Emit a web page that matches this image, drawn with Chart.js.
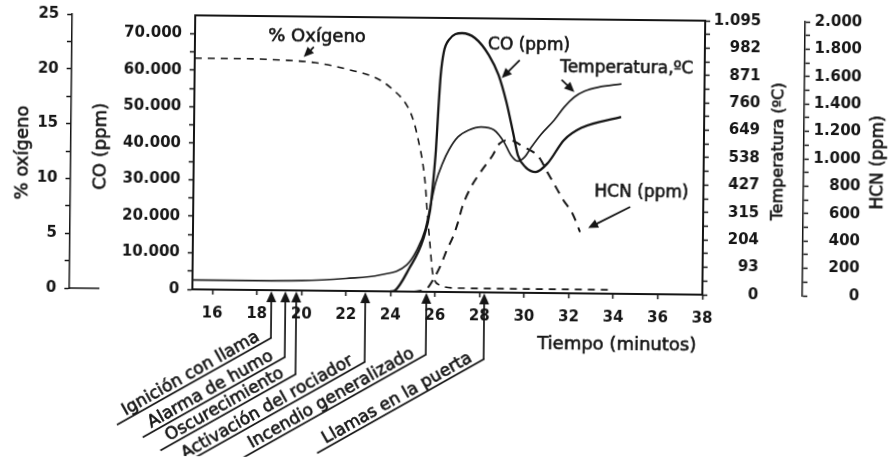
<!DOCTYPE html>
<html>
<head>
<meta charset="utf-8">
<script src="https://cdn.jsdelivr.net/npm/chart.js@4.4.0/dist/chart.umd.min.js"></script>
<style>
  html, body { margin: 0; padding: 0; background: #fff; }
  #wrap { width: 893px; height: 459px; }
  canvas { transform: rotate(0.6deg); }
</style>
</head>
<body>
<div id="wrap"><canvas id="fireChart" width="893" height="459"></canvas></div>
<script>
// tick values
const xTicks = [16, 18, 20, 22, 24, 26, 28, 30, 32, 34, 36, 38];
const o2Ticks = [0, 5, 10, 15, 20, 25];
const coTicks = [0, 10000, 20000, 30000, 40000, 50000, 60000, 70000];
const hcnTicks = [0, 200, 400, 600, 800, 1000, 1200, 1400, 1600, 1800, 2000];
// temperature scale is laid out in 200 F steps, labelled in C
const tempTickValues = [-17.8, 93.3, 204.4, 315.6, 426.7, 537.8, 648.9, 760, 871.1, 982.2, 1093.3];
const tempTickLabels = ['0', '93', '204', '315', '427', '538', '649', '760', '871', '982', '1.095'];

// % oxygen
const o2Time = [15.1, 17.0, 19.0, 20.5, 22.0, 23.2, 23.9, 24.7, 24.98, 25.2, 25.38, 25.52, 25.6, 25.74, 25.88, 26.19, 26.95, 29.0, 31.0, 34.0];
const o2Pct = [21.1, 21.1, 21.0, 20.8, 20.2, 19.5, 18.6, 16.8, 15.4, 13.6, 11.8, 9.6, 7.5, 4.5, 1.75, 0.64, 0.37, 0.35, 0.35, 0.35];

// CO (ppm)
const coTime = [24.0, 24.2, 24.84, 25.43, 25.74, 25.88, 25.97, 26.06, 26.15, 26.28, 26.5, 27.09, 27.67, 28.3, 28.75, 29.11, 29.42, 29.65, 30.0, 30.46, 31.0, 31.71, 32.48, 34.27];
const coPpm = [0, 300, 6500, 14200, 22400, 31400, 38800, 49800, 59300, 65700, 69000, 70900, 69600, 65000, 59500, 52200, 44000, 37700, 34400, 33100, 35600, 41900, 45300, 48400];

// temperature (C)
const tempTime = [15.1, 17.5, 20.0, 22.0, 23.5, 24.71, 25.16, 25.52, 25.74, 25.97, 26.28, 26.55, 26.95, 27.45, 27.99, 28.57, 29.02, 29.33, 29.65, 29.96, 30.23, 30.68, 31.27, 31.71, 32.16, 32.61, 33.24, 34.27];
const tempC = [20, 20, 22, 33, 48, 90, 151, 233, 326, 424, 505, 558, 611, 640, 653, 641, 593, 541, 516, 533, 570, 625, 684, 737, 778, 802, 819, 833];

// HCN (ppm)
const hcnTime = [25.0, 25.6, 25.97, 26.28, 26.5, 26.77, 27.0, 27.18, 27.54, 27.99, 28.53, 28.8, 29.24, 29.92, 30.59, 31.0, 31.27, 31.71, 32.12, 32.48];
const hcnPpm = [0, 20, 107, 210, 305, 400, 512, 622, 761, 879, 1004, 1084, 1114, 1064, 993, 877, 804, 680, 586, 448];

// events marked under the time axis
const eventTimes = [18.65, 19.28, 19.77, 22.87, 25.61, 28.21];
const eventLabels = ['Ignición con llama', 'Alarma de humo', 'Oscurecimiento', 'Activación del rociador', 'Incendio generalizado', 'Llamas en la puerta'];
const eventDrops = [48, 67, 84, 71, 63, 67];

const ink = '#151515';
const FONT = 'DejaVu Sans';

function pts(xs, ys) {
  return xs.map((x, i) => ({ x: x, y: ys[i] }));
}

function withMinors(majors) {
  const out = [];
  majors.forEach((v, i) => {
    out.push(v);
    if (i < majors.length - 1) out.push((v + majors[i + 1]) / 2);
  });
  return out;
}

function thousands(v) {
  return String(v).replace(/\B(?=(\d{3})+(?!\d))/g, '.');
}

// series labels placed inside the plot, in time / CO units
const notes = [
  { text: '% Oxígeno', size: 18, t: 20.58, v: 69400, from: [20.44, 66700], to: [19.99, 63900] },
  { text: 'CO (ppm)', size: 17, t: 30.10, v: 67600, from: [29.69, 63700], to: [28.89, 58700] },
  { text: 'Temperatura,ºC', size: 17, t: 34.5, v: 61600, from: [31.58, 58400], to: [32.16, 55100] },
  { text: 'HCN (ppm)', size: 17, t: 35.22, v: 27800, from: [34.72, 23800], to: [32.84, 17900] }
];

function arrow(ctx, x1, y1, x2, y2, head) {
  const a = Math.atan2(y2 - y1, x2 - x1);
  const c = Math.cos(a), s = Math.sin(a);
  ctx.beginPath();
  ctx.moveTo(x1, y1);
  ctx.lineTo(x2 - c * head * 0.7, y2 - s * head * 0.7);
  ctx.stroke();
  ctx.beginPath();
  ctx.moveTo(x2, y2);
  ctx.lineTo(x2 - head * c + head * 0.45 * s, y2 - head * s - head * 0.45 * c);
  ctx.lineTo(x2 - head * c - head * 0.45 * s, y2 - head * s + head * 0.45 * c);
  ctx.closePath();
  ctx.fill();
}

// filled text with a thin outline so it reads as heavy as the tick labels
function inkText(ctx, text, x, y) {
  ctx.lineWidth = 0.6;
  ctx.strokeText(text, x, y);
  ctx.fillText(text, x, y);
}

function vText(ctx, text, x, y, size) {
  ctx.save();
  ctx.translate(x, y);
  ctx.rotate(-Math.PI / 2);
  ctx.font = size + 'px "' + FONT + '"';
  ctx.textAlign = 'center';
  ctx.textBaseline = 'middle';
  inkText(ctx, text, 0, 0);
  ctx.restore();
}

const decor = {
  id: 'decor',
  afterDraw(chart) {
    const { ctx, chartArea: a, scales: s } = chart;
    ctx.save();
    ctx.strokeStyle = ink;
    ctx.fillStyle = ink;

    // top edge of the frame
    ctx.lineWidth = 2;
    ctx.beginPath();
    ctx.moveTo(a.left - 1, a.top);
    ctx.lineTo(a.right + 1, a.top);
    ctx.stroke();

    // foot of the oxygen axis
    const y0 = s.yO.getPixelForValue(0);
    ctx.lineWidth = 1.5;
    ctx.beginPath();
    ctx.moveTo(s.yO.right, y0);
    ctx.lineTo(s.yO.right + 30, y0);
    ctx.stroke();

    // axis titles
    const mid = (a.top + a.bottom) / 2;
    vText(ctx, '% oxígeno', s.yO.left + 22, mid + 2, 18);
    vText(ctx, 'CO (ppm)', s.yCO.left + 30, mid - 5, 18);
    vText(ctx, 'Temperatura (ºC)', s.yT.right + 19, mid - 7, 16);
    vText(ctx, 'HCN (ppm)', s.yH.right + 18, mid + 3, 17);

    ctx.font = '18px "' + FONT + '"';
    ctx.textAlign = 'center';
    ctx.textBaseline = 'middle';
    inkText(ctx, 'Tiempo (minutos)', s.x.getPixelForValue(34.18), a.bottom + 51);

    // series labels with pointers
    notes.forEach(n => {
      ctx.font = n.size + 'px "' + FONT + '"';
      ctx.textAlign = 'center';
      ctx.textBaseline = 'middle';
      inkText(ctx, n.text, s.x.getPixelForValue(n.t), s.yCO.getPixelForValue(n.v));
      ctx.lineWidth = 1.8;
      arrow(ctx,
        s.x.getPixelForValue(n.from[0]), s.yCO.getPixelForValue(n.from[1]),
        s.x.getPixelForValue(n.to[0]), s.yCO.getPixelForValue(n.to[1]), 10);
    });

    // event markers: arrow up to the axis, then a slanted underline with its label
    const ang = Math.PI / 6;
    ctx.font = '17px "' + FONT + '"';
    eventTimes.forEach((t, i) => {
      const x = s.x.getPixelForValue(t);
      const yEnd = a.bottom + eventDrops[i];
      ctx.lineWidth = 1.7;
      arrow(ctx, x, yEnd, x, a.bottom + 1, 11);
      const w = ctx.measureText(eventLabels[i]).width;
      ctx.save();
      ctx.translate(x, yEnd);
      ctx.rotate(-ang);
      ctx.lineWidth = 1.7;
      ctx.beginPath();
      ctx.moveTo(0.8, 0);
      ctx.lineTo(-(w + 22), 0);
      ctx.stroke();
      ctx.textAlign = 'right';
      ctx.textBaseline = 'alphabetic';
      inkText(ctx, eventLabels[i], -10, -4);
      ctx.restore();
    });

    ctx.restore();
  }
};

const tickFont = { family: FONT, size: 15, weight: 'bold' };

function yAxis(opts) {
  return Object.assign({
    type: 'linear',
    grid: { display: true, drawOnChartArea: false, drawTicks: true, tickLength: 5, tickColor: ink, tickWidth: 1.5 },
    border: { display: true, color: ink, width: 2 }
  }, opts);
}

new Chart(document.getElementById('fireChart'), {
  type: 'line',
  data: {
    datasets: [
      {
        label: '% Oxígeno',
        data: pts(o2Time, o2Pct),
        yAxisID: 'yO',
        borderColor: ink,
        borderWidth: 1.6,
        borderDash: [7, 6],
        pointRadius: 0,
        cubicInterpolationMode: 'monotone',
        fill: false
      },
      {
        label: 'CO (ppm)',
        data: pts(coTime, coPpm),
        yAxisID: 'yCO',
        borderColor: ink,
        borderWidth: 2.3,
        pointRadius: 0,
        cubicInterpolationMode: 'monotone',
        fill: false
      },
      {
        label: 'Temperatura, ºC',
        data: pts(tempTime, tempC),
        yAxisID: 'yT',
        borderColor: '#222',
        borderWidth: 1.7,
        pointRadius: 0,
        cubicInterpolationMode: 'monotone',
        fill: false
      },
      {
        label: 'HCN (ppm)',
        data: pts(hcnTime, hcnPpm),
        yAxisID: 'yH',
        borderColor: ink,
        borderWidth: 2,
        borderDash: [9, 7],
        pointRadius: 0,
        cubicInterpolationMode: 'monotone',
        fill: false
      }
    ]
  },
  options: {
    responsive: false,
    animation: false,
    layout: { padding: { top: 18, right: 33, left: 0, bottom: 0 } },
    plugins: { legend: { display: false }, tooltip: { enabled: false } },
    scales: {
      x: {
        type: 'linear',
        min: 15.1,
        max: 38,
        afterBuildTicks: sc => { sc.ticks = xTicks.map(v => ({ value: v })); },
        afterFit: sc => { sc.height = 167; },
        grid: { display: true, drawOnChartArea: false, tickLength: 5, tickColor: ink, tickWidth: 1.5 },
        border: { display: true, color: ink, width: 2 },
        ticks: { color: ink, font: tickFont, maxRotation: 0, autoSkip: false, padding: 10 }
      },
      yO: yAxis({
        position: 'left',
        weight: 1,
        min: 0,
        max: 25,
        border: { display: true, color: ink, width: 1.5 },
        afterBuildTicks: sc => { sc.ticks = withMinors(o2Ticks).map(v => ({ value: v })); },
        afterFit: sc => { sc.width = 70; },
        ticks: { color: ink, font: tickFont, autoSkip: false, padding: 8,
          callback: v => o2Ticks.includes(v) ? String(v) : '' }
      }),
      yCO: yAxis({
        position: 'left',
        weight: 0,
        min: 0,
        max: 75000,
        afterBuildTicks: sc => { sc.ticks = withMinors(coTicks).map(v => ({ value: v })); },
        afterFit: sc => { sc.width = 123; },
        ticks: { color: ink, font: tickFont, autoSkip: false, padding: 8,
          callback: v => coTicks.includes(v) ? thousands(v) : '' }
      }),
      yT: yAxis({
        position: 'right',
        weight: 0,
        min: -17.8,
        max: 1093.3,
        afterBuildTicks: sc => { sc.ticks = withMinors(tempTickValues).map(v => ({ value: v })); },
        afterFit: sc => { sc.width = 56; },
        ticks: { color: ink, font: tickFont, autoSkip: false, padding: 3, crossAlign: 'far',
          callback: v => {
            const i = tempTickValues.indexOf(v);
            return i >= 0 ? tempTickLabels[i] : '';
          } }
      }),
      gap: {
        type: 'linear',
        position: 'right',
        weight: 1,
        min: 0,
        max: 1,
        grid: { display: false },
        border: { display: false },
        ticks: { display: false },
        afterFit: sc => { sc.width = 44; }
      },
      yH: yAxis({
        position: 'right',
        weight: 2,
        min: 0,
        max: 2000,
        border: { display: true, color: ink, width: 1.5 },
        afterBuildTicks: sc => { sc.ticks = withMinors(hcnTicks).map(v => ({ value: v })); },
        afterFit: sc => { sc.width = 57; },
        ticks: { color: ink, font: tickFont, autoSkip: false, padding: 5, crossAlign: 'far',
          callback: v => hcnTicks.includes(v) ? thousands(v) : '' }
      })
    }
  },
  plugins: [decor]
});
</script>
</body>
</html>
